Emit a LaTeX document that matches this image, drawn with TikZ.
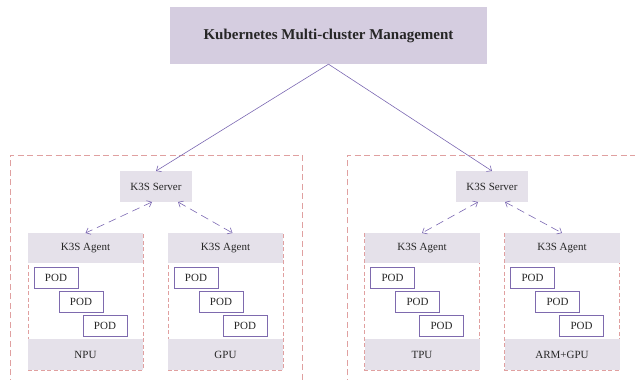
\documentclass[tikz,border=0pt]{standalone}
\usepackage{fontspec}
\setmainfont{Liberation Serif}
\usepackage{xcolor}
\usetikzlibrary{positioning,arrows.meta,backgrounds}

\definecolor{mgmtfill}{HTML}{D5CDE0}
\definecolor{boxfill}{HTML}{E5E1EA}
\definecolor{linkpurple}{HTML}{7B68B2}
\definecolor{dashpink}{HTML}{E0A0A0}
\definecolor{podpurple}{HTML}{7E6AAE}

\tikzset{
  smalltext/.style={font=\fontsize{11}{13}\selectfont, text=black!85},
  serverbox/.style={rectangle, fill=boxfill, minimum width=72pt, minimum height=31pt, inner sep=0pt, outer sep=0pt, smalltext},
  agentbox/.style={rectangle, fill=boxfill, minimum width=115pt, minimum height=30pt, inner sep=0pt, outer sep=0pt, smalltext},
  hwbox/.style={rectangle, fill=boxfill, minimum width=115pt, minimum height=31pt, inner sep=0pt, outer sep=0pt, smalltext},
  podbox/.style={rectangle, draw=podpurple, line width=0.9pt, fill=white, minimum width=44pt, minimum height=21pt, inner sep=0pt, smalltext},
  clusterline/.style={draw=dashpink, line width=0.8pt, dash pattern=on 6pt off 3.5pt},
  agentframe/.style={draw=dashpink, line width=0.6pt, dash pattern=on 4pt off 2.5pt},
  link/.style={draw=linkpurple, line width=0.6pt, -{Straight Barb[length=4pt,width=7pt]}},
  duallink/.style={link, {Straight Barb[length=4pt,width=7pt]}-{Straight Barb[length=4pt,width=7pt]}, dash pattern=on 8pt off 5pt},
}

\begin{document}
\begin{tikzpicture}[x=1pt, y=1pt, node distance=76pt]
    \useasboundingbox (0,0) rectangle (635,380);

    % Management layer
    \node[rectangle, fill=mgmtfill, minimum width=317pt, minimum height=57pt, font=\fontsize{15}{18}\selectfont\bfseries, text=black!85] (mgmt) at (328.5,344.5) {Kubernetes Multi-cluster Management};

    % Clusters
    \draw[clusterline] (10,-5) -- (10,225) -- (302,225) -- (302,-5);
    \draw[clusterline] (347,-5) -- (347,225) -- (640,225);

    % Servers
    \node[serverbox] (srvL) at (156,193.5) {K3S Server};
    \node[serverbox] (srvR) at (492,193.5) {K3S Server};

    % Agents
    \node[agentbox] (agentA) at (85.5,132) {K3S Agent};
    \node[agentbox] (agentB) at (225.5,132) {K3S Agent};
    \node[agentbox] (agentC) at (422,132) {K3S Agent};
    \node[agentbox] (agentD) at (562,132) {K3S Agent};

    % Hardware
    \node[hwbox, below=of agentA] (hwA) {NPU};
    \node[hwbox, below=of agentB] (hwB) {GPU};
    \node[hwbox, below=of agentC] (hwC) {TPU};
    \node[hwbox, below=of agentD] (hwD) {ARM+GPU};

    % Agent frames (behind the fills)
    \begin{pgfonlayer}{background}
    \draw[agentframe] (agentA.north west) rectangle (hwA.south east);
    \draw[agentframe] (agentB.north west) rectangle (hwB.south east);
    \draw[agentframe] (agentC.north west) rectangle (hwC.south east);
    \draw[agentframe] (agentD.north west) rectangle (hwD.south east);
    \end{pgfonlayer}

    % Pods
    \node[podbox] at ([xshift=28pt,yshift=-14.5pt]agentA.south west) (podA1) {POD};
    \node[podbox] at ([xshift=25pt,yshift=-24pt]podA1.center) (podA2) {POD};
    \node[podbox] at ([xshift=24pt,yshift=-24pt]podA2.center) (podA3) {POD};
    \node[podbox] at ([xshift=28pt,yshift=-14.5pt]agentB.south west) (podB1) {POD};
    \node[podbox] at ([xshift=25pt,yshift=-24pt]podB1.center) (podB2) {POD};
    \node[podbox] at ([xshift=24pt,yshift=-24pt]podB2.center) (podB3) {POD};
    \node[podbox] at ([xshift=28pt,yshift=-14.5pt]agentC.south west) (podC1) {POD};
    \node[podbox] at ([xshift=25pt,yshift=-24pt]podC1.center) (podC2) {POD};
    \node[podbox] at ([xshift=24pt,yshift=-24pt]podC2.center) (podC3) {POD};
    \node[podbox] at ([xshift=28pt,yshift=-14.5pt]agentD.south west) (podD1) {POD};
    \node[podbox] at ([xshift=25pt,yshift=-24pt]podD1.center) (podD2) {POD};
    \node[podbox] at ([xshift=24pt,yshift=-24pt]podD2.center) (podD3) {POD};

    % Arrows
    \draw[link] (mgmt.south) -- (srvL.north);
    \draw[link] (mgmt.south) -- (srvR.north);

    \draw[duallink] ([xshift=-4pt]srvL.south) -- (agentA.north);
    \draw[duallink] ([xshift=22pt]srvL.south) -- ([xshift=7pt]agentB.north);
    \draw[duallink] ([xshift=-14pt]srvR.south) -- (agentC.north);
    \draw[duallink] ([xshift=13pt]srvR.south) -- (agentD.north);
\end{tikzpicture}
\end{document}
